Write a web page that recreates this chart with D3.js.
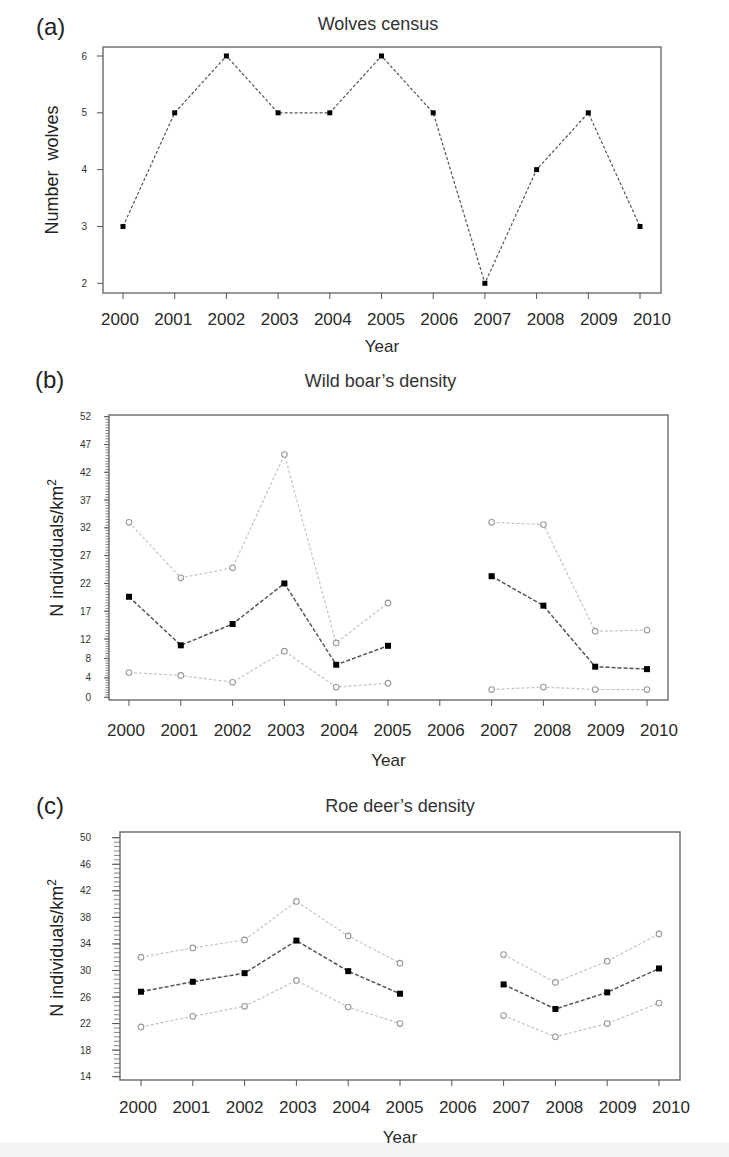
<!DOCTYPE html>
<html><head><meta charset="utf-8">
<script src="https://cdn.jsdelivr.net/npm/d3@7"></script>
<style>body{margin:0;background:#fff}text{font-family:"Liberation Sans",Arial,sans-serif}</style>
</head><body>
<svg id="chart" width="729" height="1157"></svg>
<script>
// ---- data ----
const years = ["2000","2001","2002","2003","2004","2005","2006","2007","2008","2009","2010"];
const wolves = [3,5,6,5,5,6,5,2,4,5,3];
const boarMean  = [19.6,10.7,14.7,22.0,6.7,10.6,null,23.3,18.0,6.3,5.8];
const boarUpper = [33.0,23.0,24.8,45.2,11.2,18.5,null,33.0,32.6,13.4,13.6];
const boarLower = [5.1,4.5,3.1,9.5,2.1,2.9,null,1.6,2.1,1.6,1.6];
const deerMean  = [26.8,28.3,29.6,34.5,29.9,26.5,null,27.9,24.2,26.7,30.3];
const deerUpper = [32.0,33.4,34.6,40.4,35.2,31.1,null,32.4,28.2,31.4,35.5];
const deerLower = [21.5,23.1,24.6,28.5,24.5,22.0,null,23.2,20.0,22.0,25.1];
const wolfTicks = [2,3,4,5,6];
const boarTicks = [0,4,8,12,17,22,27,32,37,42,47,52];
const deerTicks = [14,18,22,26,30,34,38,42,46,50];

const svg = d3.select("#chart");
svg.append("rect").attr("x",0).attr("y",1142).attr("width",729).attr("height",15).attr("fill","#f5f5f5");

function panel(cfg){
  const g = svg.append("g");
  const x = d3.scalePoint().domain(years).range([cfg.left+cfg.padL, cfg.right-21]);
  const xl = d3.scalePoint().domain(years).range([cfg.left+cfg.padL-3, cfg.right-9]);
  const y = d3.scaleLinear().domain(cfg.domain).range(cfg.range);

  if (cfg.minor) {
    g.selectAll(".mt").data(cfg.minor).enter().append("line")
      .attr("x1", cfg.left-cfg.minorLen).attr("x2", cfg.left)
      .attr("y1", d=>y(d)).attr("y2", d=>y(d))
      .attr("stroke","#666").attr("stroke-width",0.8);
  }
  g.selectAll(".yt").data(cfg.ticks).enter().append("line")
    .attr("x1", cfg.left-cfg.majorLen).attr("x2", cfg.left)
    .attr("y1", d=>y(d)).attr("y2", d=>y(d))
    .attr("stroke","#555").attr("stroke-width",1);
  g.selectAll(".yl").data(cfg.ticks).enter().append("text")
    .attr("x", cfg.labelX).attr("y", d=>y(d)+3.5)
    .attr("text-anchor","end").attr("font-size",10).attr("fill","#333")
    .text(d=>d);

  g.append("rect").attr("x",cfg.left).attr("y",cfg.top)
    .attr("width",cfg.right-cfg.left).attr("height",cfg.bottom-cfg.top)
    .attr("fill","none").attr("stroke","#6a6a6a").attr("stroke-width",1.4);

  g.selectAll(".xt").data(years).enter().append("line")
    .attr("x1", d=>x(d)).attr("x2", d=>x(d))
    .attr("y1", cfg.bottom).attr("y2", cfg.bottom+6)
    .attr("stroke","#555").attr("stroke-width",1);
  g.selectAll(".xl").data(years).enter().append("text")
    .attr("x", d=>xl(d)).attr("y", cfg.tickLabelY)
    .attr("text-anchor","middle").attr("font-size",17).attr("fill","#2a2a2a")
    .text(d=>d);

  g.append("text").attr("x",cfg.tagX).attr("y",cfg.tagY).attr("font-size",24).attr("fill","#222").text(cfg.tag);
  g.append("text").attr("x",(cfg.left+cfg.right)/2 + cfg.titleDx).attr("y",cfg.titleY)
    .attr("text-anchor","middle").attr("font-size",18).attr("fill","#333").text(cfg.title);
  g.append("text").attr("x",(cfg.left+cfg.right)/2).attr("y",cfg.yearY)
    .attr("text-anchor","middle").attr("font-size",17).attr("fill","#2a2a2a").text("Year");
  const yt = g.append("text")
    .attr("transform",`translate(${cfg.ylabX},${cfg.ylabY}) rotate(-90)`)
    .attr("text-anchor","middle").attr("font-size",18).attr("fill","#222");
  if (cfg.sup) {
    yt.append("tspan").text(cfg.ylab);
    yt.append("tspan").attr("dy",-7).attr("font-size",12).text(cfg.sup);
  } else yt.text(cfg.ylab);

  cfg.series.forEach(s=>{
    const pts = years.map((yr,i)=>({yr, v:s.values[i]}));
    const line = d3.line().defined(d=>d.v!=null).x(d=>x(d.yr)).y(d=>y(d.v));
    g.append("path").datum(pts).attr("d",line).attr("fill","none")
      .attr("stroke",s.stroke).attr("stroke-width",s.width).attr("stroke-dasharray",s.dash);
    const valid = pts.filter(d=>d.v!=null);
    if (s.marker==="square"){
      g.selectAll(null).data(valid).enter().append("rect")
        .attr("x",d=>x(d.yr)-s.size/2).attr("y",d=>y(d.v)-s.size/2)
        .attr("width",s.size).attr("height",s.size).attr("fill","#000");
    } else {
      g.selectAll(null).data(valid).enter().append("circle")
        .attr("cx",d=>x(d.yr)).attr("cy",d=>y(d.v)).attr("r",2.8)
        .attr("fill","#fff").attr("stroke","#999").attr("stroke-width",1.1);
    }
  });
}

const bound = v=>({values:v, stroke:"#c4c4c4", width:1.2, dash:"3,2", marker:"circle"});
const mean  = v=>({values:v, stroke:"#555", width:1.5, dash:"4,2", marker:"square", size:6});

panel({left:103,right:661,top:47,bottom:293,padL:20,
  domain:[2,6], range:[283.3,56], ticks:wolfTicks, majorLen:6, labelX:87,
  tickLabelY:325, tag:"(a)", tagX:36, tagY:35, title:"Wolves census", titleDx:-4, titleY:30,
  yearY:352, ylab:"Number\u00a0\u00a0wolves", ylabX:58, ylabY:170,
  series:[{values:wolves, stroke:"#555", width:1.2, dash:"3,2", marker:"square", size:5}]});

panel({left:109,right:668,top:415,bottom:700,padL:20,
  domain:[0,12,52], range:[697.3,639,416.7], ticks:boarTicks, majorLen:5,
  minor:d3.range(0,52.01,0.5), minorLen:3.5, labelX:91,
  tickLabelY:735.5, tag:"(b)", tagX:35, tagY:388, title:"Wild boar’s density", titleDx:-8, titleY:387,
  yearY:766, ylab:"N individuals/km", sup:"2", ylabX:63, ylabY:548,
  series:[bound(boarUpper), bound(boarLower), mean(boarMean)]});

panel({left:120,right:680,top:832,bottom:1080,padL:21,
  domain:[14,50], range:[1076.7,837.7], ticks:deerTicks, majorLen:8,
  minor:d3.range(14,50.01,2/3), minorLen:6, labelX:91,
  tickLabelY:1113, tag:"(c)", tagX:36, tagY:814, title:"Roe deer’s density", titleDx:0, titleY:812,
  yearY:1143, ylab:"N individuals/km", sup:"2", ylabX:63, ylabY:948,
  series:[bound(deerUpper), bound(deerLower), mean(deerMean)]});
</script>
</body></html>
